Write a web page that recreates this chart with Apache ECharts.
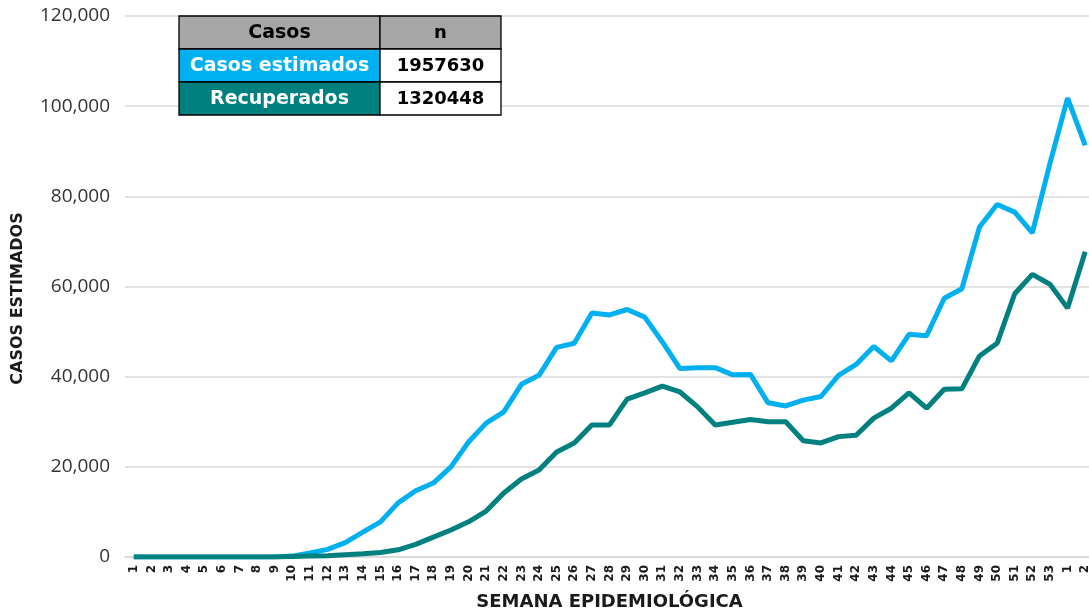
<!DOCTYPE html>
<html><head><meta charset="utf-8">
<script src="https://cdn.jsdelivr.net/npm/echarts@6/dist/echarts.min.js"></script>
<style>html,body{margin:0;padding:0;background:#fff}#c{width:1089px;height:613px}</style>
</head><body><div id="c"></div>
<script>
const weeks = ['1','2','3','4','5','6','7','8','9','10','11','12','13','14','15','16','17','18','19','20','21','22','23','24','25','26','27','28','29','30','31','32','33','34','35','36','37','38','39','40','41','42','43','44','45','46','47','48','49','50','51','52','53','1','2'];
const casosEstimados = [0,0,0,0,0,0,0,0,0,200,900,1700,3200,5500,7800,12000,14700,16400,20000,25500,29700,32200,38300,40300,46500,47400,54100,53700,54900,53200,47700,41800,42000,42000,40400,40500,34200,33500,34800,35600,40300,42700,46700,43500,49400,49100,57400,59500,73200,78200,76500,71900,87300,101800,91300];
const recuperados = [0,0,0,0,0,0,0,0,0,100,200,300,500,700,1000,1600,2800,4400,6000,7800,10200,14200,17300,19300,23300,25300,29300,29300,35000,36400,37900,36600,33300,29300,29900,30500,30000,30000,25800,25300,26700,27000,30800,33000,36400,33000,37200,37300,44600,47400,58400,62700,60500,55200,67700];
const yTicks = [0,20000,40000,60000,80000,100000,120000];
const tableHeader = ['Casos','n'];
const tableRows = [['Casos estimados','1957630'],['Recuperados','1320448']];

const BLUE = '#00B0F0', TEAL = '#00807F';
const chart = echarts.init(document.getElementById('c'));
const font = '"Open Sans", sans-serif';
const bfont = '"DejaVu Sans", sans-serif';

const tx = 179, ty = 16, c1 = 201, c2 = 121, rh = 33;
const rowFill = ['#A6A6A6', BLUE, TEAL];
const rowText = ['#000', '#fff', '#fff'];
const allRows = [tableHeader].concat(tableRows);
const g = [];
allRows.forEach((r, i) => {
  const y = ty + i * rh;
  g.push({type:'rect', shape:{x:tx, y:y, width:c1, height:rh}, style:{fill:rowFill[i], stroke:'#000', lineWidth:1.3}, z:100});
  g.push({type:'rect', shape:{x:tx + c1, y:y, width:c2, height:rh}, style:{fill:i===0?'#A6A6A6':'#fff', stroke:'#000', lineWidth:1.3}, z:100});
  g.push({type:'text', x:tx + c1/2, y:y + rh/2 + 1, style:{text:r[0], fill:rowText[i], font:'bold 19px ' + bfont, textAlign:'center', textVerticalAlign:'middle'}, z:101});
  g.push({type:'text', x:tx + c1 + c2/2, y:y + rh/2 + 1, style:{text:r[1], fill:'#000', font:'bold 18px ' + bfont, textAlign:'center', textVerticalAlign:'middle'}, z:101});
});

chart.setOption({
  animation:false,
  grid:{left:125, top:16, width:969, height:541, containLabel:false, outerBoundsMode:'none'},
  xAxis:{
    type:'category', data:weeks, boundaryGap:true,
    name:'SEMANA EPIDEMIOLÓGICA', nameLocation:'middle', nameGap:36,
    nameTextStyle:{fontFamily:bfont, fontWeight:'bold', fontSize:18, color:'#1a1a1a'},
    axisLine:{show:true, lineStyle:{color:'#d9d9d9', width:1.5}},
    axisTick:{show:false},
    axisLabel:{rotate:90, interval:0, fontFamily:bfont, fontWeight:'bold', fontSize:12, color:'#1a1a1a', margin:8}
  },
  yAxis:{
    type:'value', min:0, max:120000, interval:20000,
    name:'CASOS ESTIMADOS', nameLocation:'middle', nameGap:99, nameRotate:90,
    nameTextStyle:{fontFamily:bfont, fontWeight:'bold', fontSize:16, color:'#1a1a1a', padding:[0,24,0,0]},
    axisLine:{show:false}, axisTick:{show:false},
    splitLine:{lineStyle:{color:'#d9d9d9', width:1.5}},
    axisLabel:{fontFamily:font, fontSize:19, color:'#333333', margin:15,
      formatter:v => yTicks.includes(v) ? v.toLocaleString('en-US') : ''}
  },
  series:[
    {name:'Casos estimados', type:'line', data:casosEstimados, symbol:'none', lineStyle:{color:BLUE, width:5}, z:2},
    {name:'Recuperados', type:'line', data:recuperados, symbol:'none', lineStyle:{color:TEAL, width:5}, z:3}
  ],
  graphic:g
});
</script></body></html>
